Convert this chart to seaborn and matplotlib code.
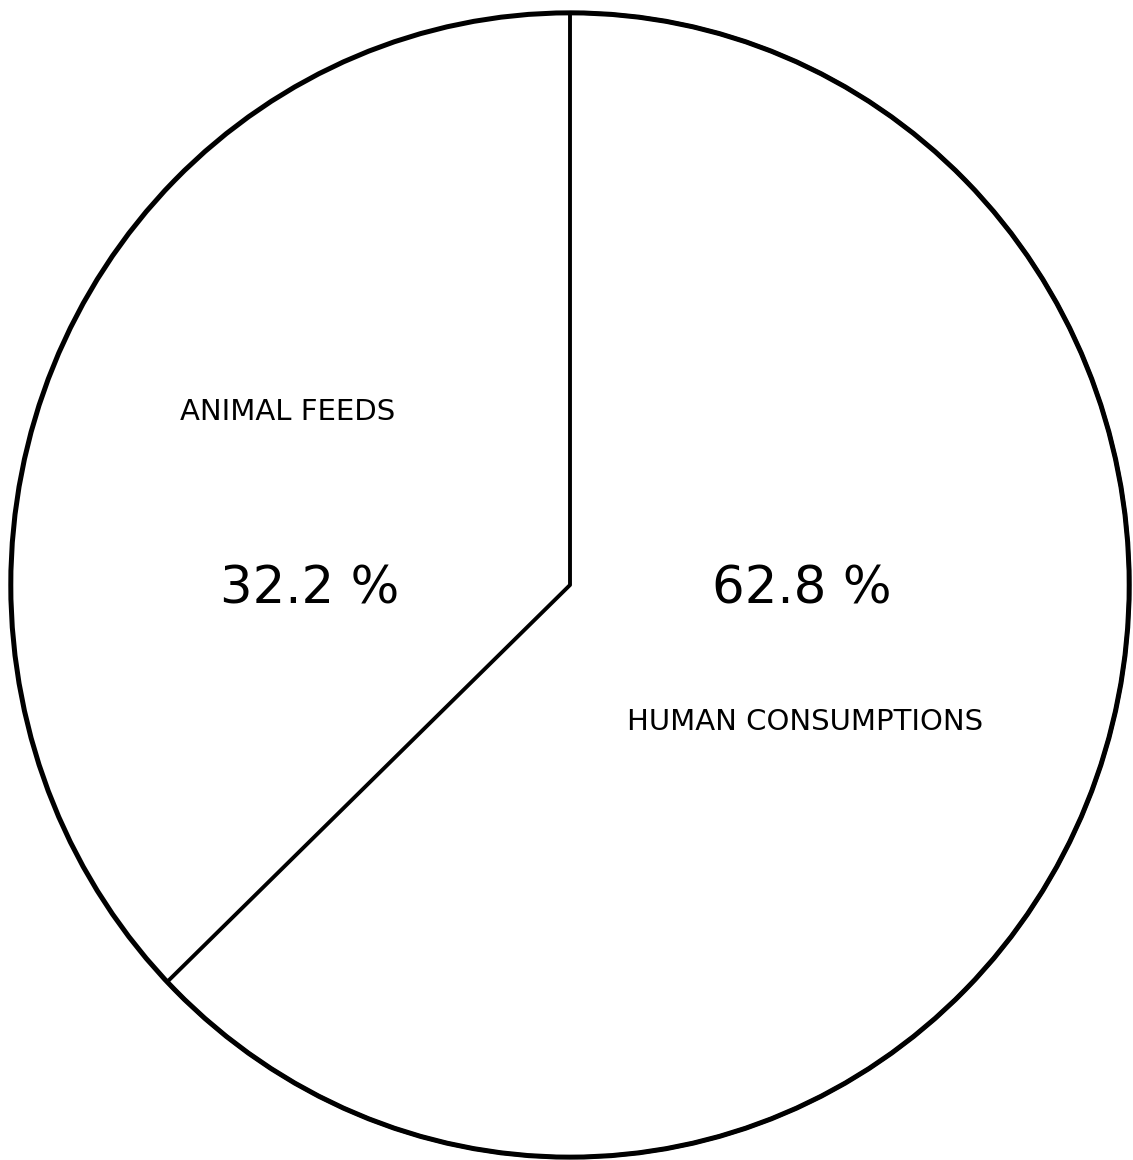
import matplotlib
matplotlib.use("Agg")
import matplotlib.pyplot as plt
import seaborn as sns
from matplotlib.patches import Ellipse

sns.set_theme(style="white")
plt.rcParams['font.family'] = ['DejaVu Sans']

# Shares of production by use (percent)
categories = ["ANIMAL FEEDS", "HUMAN CONSUMPTIONS"]
shares = [32.2, 62.8]
share_labels = ["32.2 %", "62.8 %"]

fig = plt.figure(figsize=(11.33, 11.6), dpi=100)
fig.patch.set_facecolor("white")
ax = fig.add_axes([8 / 1133, 0 / 1160, 1124 / 1133, 1150 / 1160])

# human share is laid out clockwise from 12 o'clock, animal share follows it
order = [1, 0]
fractions = [shares[i] / 100.0 for i in order]
wedges, _ = ax.pie(
    fractions,
    normalize=False,
    startangle=90,
    counterclock=False,
    colors=["white", "white"],
    wedgeprops=dict(edgecolor="black", linewidth=2.8, joinstyle="round"),
    radius=1.0,
)
# only the human-consumption wedge carries the dividing radii
wedges[1].set_edgecolor("none")
wedges[1].set_facecolor("none")
wedges[0].set_zorder(3)

ax.set_aspect("auto")
ax.set_xlim(-1.005, 1.005)
ax.set_ylim(-1.005, 1.005)

# heavier outer rim
ax.add_patch(Ellipse((0, 0), 2.0, 2.0, fill=False, edgecolor="black", linewidth=3.6, zorder=5))

# category names and percentages
ax.text(-0.505, 0.302, categories[0], fontsize=21, ha="center", va="center", color="black", zorder=6)
ax.text(-0.465, -0.008, share_labels[0], fontsize=37, ha="center", va="center", color="black", zorder=6)
ax.text(0.415, -0.008, share_labels[1], fontsize=37, ha="center", va="center", color="black", zorder=6)
ax.text(0.42, -0.24, categories[1], fontsize=21, ha="center", va="center", color="black", zorder=6)

ax.axis("off")
fig.savefig("out.png", dpi=100, facecolor="white")
